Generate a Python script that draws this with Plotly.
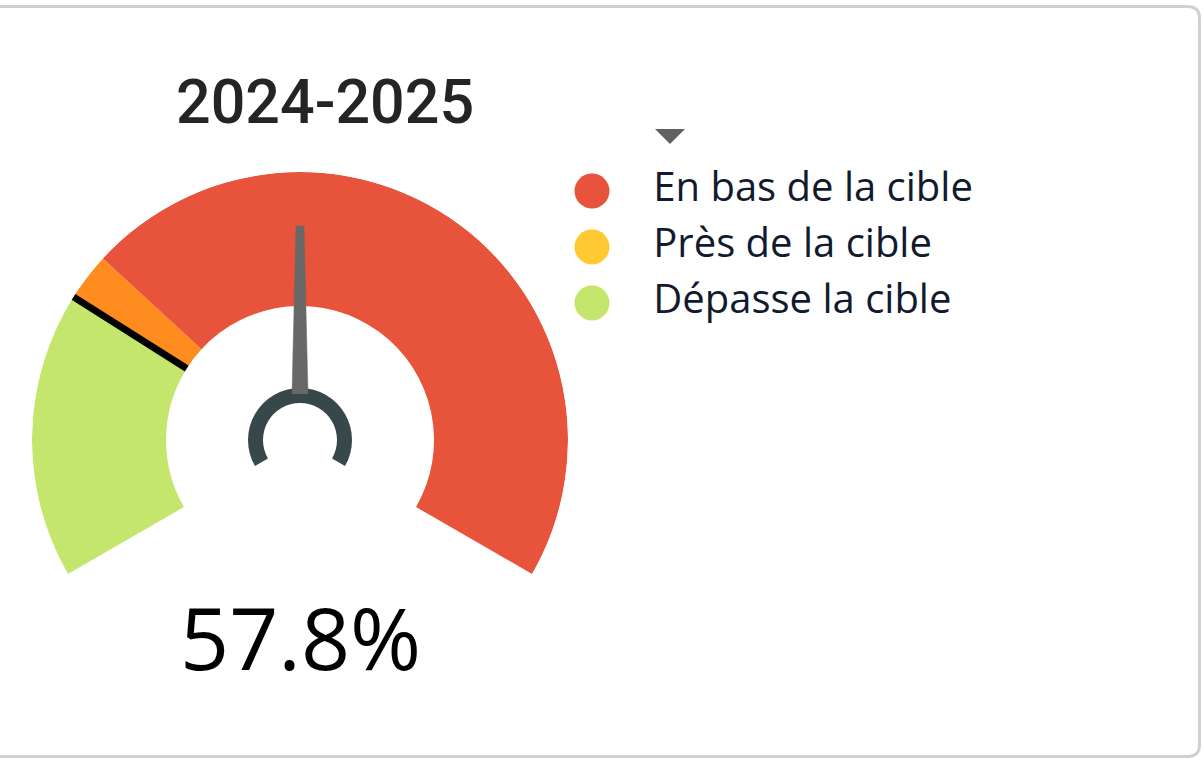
import math
import plotly.graph_objects as go

# ---------------- data ----------------
title_text = "2024-2025"
value = 57.8
value_label = "57.8%"
gauge_min = 0.0
gauge_max = 115.6          # needle sits at mid-scale
target = 30.0
band_names = ["Dépasse la cible", "Près de la cible", "En bas de la cible"]
band_starts = [0.0, 30.0, 35.0]
band_ends = [30.0, 35.0, 115.6]
band_colors = ["#C4E66C", "#FF8C1E", "#E8533B"]

legend_names = ["En bas de la cible", "Près de la cible", "Dépasse la cible"]
legend_colors = ["#E8533B", "#FFC933", "#C4E66C"]

# ---------------- layout constants (px) ----------------
W, H = 1204, 760
CX, CY, R = 300, 440, 268
R_IN = 134
SWEEP = 240.0


def deg(v):
    return (v - gauge_min) / (gauge_max - gauge_min) * SWEEP


fig = go.Figure()

# gauge bands
fig.add_trace(go.Barpolar(
    theta=[(deg(s) + deg(e)) / 2 for s, e in zip(band_starts, band_ends)],
    width=[deg(e) - deg(s) for s, e in zip(band_starts, band_ends)],
    r=[1 - R_IN / R] * len(band_starts),
    base=[R_IN / R] * len(band_starts),
    marker=dict(color=band_colors, line=dict(width=0)),
    name="bands", showlegend=False, hoverinfo="skip",
))

# target marker
fig.add_trace(go.Scatterpolar(
    r=[R_IN / R, 1.0], theta=[deg(target), deg(target)],
    mode="lines", line=dict(color="#000000", width=7),
    showlegend=False, hoverinfo="skip",
))

# needle (tapered polygon)
vt = deg(value)
rt, ht = 214, 4.0
rb, hb = 46, 8.0
dt = math.degrees(math.atan(ht / rt))
db = math.degrees(math.atan(hb / rb))
fig.add_trace(go.Scatterpolar(
    r=[math.hypot(rb, hb) / R, math.hypot(rt, ht) / R, math.hypot(rt, ht) / R, math.hypot(rb, hb) / R],
    theta=[vt - db, vt - dt, vt + dt, vt + db],
    mode="lines", fill="toself", fillcolor="#686868",
    line=dict(color="#686868", width=0.5),
    showlegend=False, hoverinfo="skip",
))

# hub ring
fig.add_trace(go.Barpolar(
    theta=[SWEEP / 2], width=[SWEEP],
    r=[15 / R], base=[37 / R],
    marker=dict(color="#37474A", line=dict(width=0)),
    showlegend=False, hoverinfo="skip",
))

# manual legend
fig.add_trace(go.Scatter(
    x=[0.0727] * len(legend_names), y=legend_names,
    mode="markers", marker=dict(size=35, color=legend_colors, line=dict(width=0)),
    xaxis="x2", yaxis="y2", showlegend=False, hoverinfo="skip",
))
fig.add_trace(go.Scatter(
    x=[0.212] * len(legend_names), y=legend_names,
    mode="text", text=legend_names, textposition="middle right",
    textfont=dict(family="Open Sans", size=40, color="#121A2E"),
    xaxis="x2", yaxis="y2", showlegend=False, hoverinfo="skip",
))


def px_x(x):
    return x / W


def px_y(y):
    return 1 - y / H


# border (rounded rectangle, left edge off-screen)
L, T, Rr, B, c = -10, 6.5, 1199.5, 756.5, 12
path = (f"M {px_x(L)},{px_y(T)} L {px_x(Rr - c)},{px_y(T)} "
        f"Q {px_x(Rr)},{px_y(T)} {px_x(Rr)},{px_y(T + c)} "
        f"L {px_x(Rr)},{px_y(B - c)} "
        f"Q {px_x(Rr)},{px_y(B)} {px_x(Rr - c)},{px_y(B)} "
        f"L {px_x(L)},{px_y(B)}")
tri = (f"M {px_x(655)},{px_y(129)} L {px_x(685)},{px_y(129)} "
       f"L {px_x(670)},{px_y(144)} Z")

fig.update_layout(
    width=W, height=H,
    margin=dict(l=0, r=0, t=0, b=0),
    paper_bgcolor="white", plot_bgcolor="white",
    polar=dict(
        domain=dict(x=[px_x(CX - R), px_x(CX + R)], y=[px_y(CY + R), px_y(CY - R)]),
        bgcolor="rgba(0,0,0,0)",
        bargap=0, barmode="overlay",
        angularaxis=dict(rotation=210, direction="clockwise", visible=False,
                         showgrid=False, showline=False),
        radialaxis=dict(range=[0, 1], visible=False, showgrid=False, showline=False),
    ),
    xaxis2=dict(domain=[px_x(560), px_x(1000)], range=[0, 1], visible=False,
                anchor="y2", fixedrange=True),
    yaxis2=dict(domain=[px_y(331), px_y(163)], range=[2.5, -0.5], visible=False,
                anchor="x2", type="category", categoryorder="array",
                categoryarray=legend_names, fixedrange=True),
    shapes=[
        dict(type="path", path=path, xref="paper", yref="paper",
             line=dict(color="#D0D0D0", width=3)),
        dict(type="path", path=tri, xref="paper", yref="paper",
             fillcolor="#606060", line=dict(width=0)),
    ],
    annotations=[
        dict(text=title_text, x=px_x(325), y=px_y(102), xref="paper", yref="paper",
             showarrow=False, xanchor="center", yanchor="middle",
             font=dict(family="Roboto", size=61, color="#252423", weight=500)),
        dict(text=value_label, x=px_x(300), y=px_y(636), xref="paper", yref="paper",
             showarrow=False, xanchor="center", yanchor="middle",
             font=dict(family="Open Sans", size=86, color="#000000")),
    ],
    showlegend=False,
)

fig.write_html(
    "out.html",
    config={"displayModeBar": False, "staticPlot": True},
    post_script="document.body.style.margin='0';document.body.style.overflow='hidden';",
)
